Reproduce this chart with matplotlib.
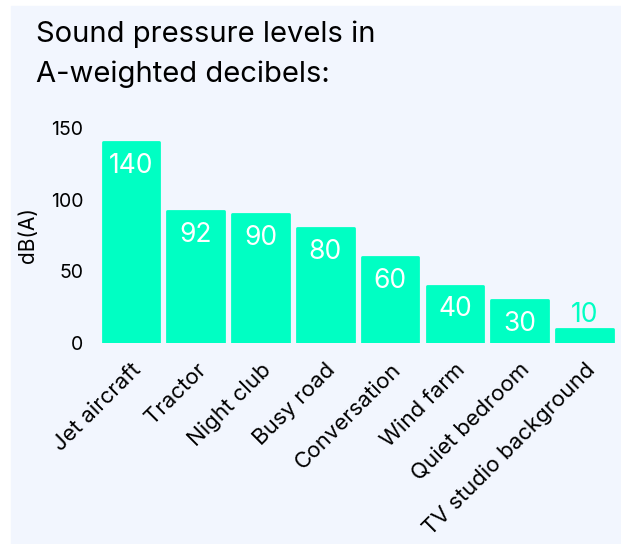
import matplotlib
matplotlib.use('Agg')
import matplotlib.pyplot as plt
from matplotlib.patches import Rectangle
import numpy as np

# data
categories = ['Jet aircraft', 'Tractor', 'Night club', 'Busy road', 'Conversation',
              'Wind farm', 'Quiet bedroom', 'TV studio background']
levels = [140, 92, 90, 80, 60, 40, 30, 10]
yticks = [0, 50, 100, 150]

bar_color = '#00FFC3'
panel_color = '#F2F6FE'

plt.rcParams['font.family'] = ['Inter', 'DejaVu Sans']

fig = plt.figure(figsize=(6.21, 5.44), dpi=100, facecolor='white')
# light panel behind everything
fig.add_artist(Rectangle((11 / 621, 0), 1 - 11 / 621, 1 - 6 / 544,
                         transform=fig.transFigure, color=panel_color, zorder=-10))

ax = fig.add_axes([0.1588, 0.3695, 0.8346, 0.3952])
ax.set_facecolor('none')

x = np.arange(len(categories))
# thin edge in the same colour with round joins -> slightly rounded corners
bars = ax.bar(x, levels, width=0.875, color=bar_color, edgecolor=bar_color,
              linewidth=2, joinstyle='round')

# value labels, inside the bar unless it is too short
for xi, v in zip(x, levels):
    if v >= 20:
        ax.annotate(str(v), (xi, v), xytext=(0, -17), textcoords='offset points',
                    ha='center', va='center', color='white', fontsize=19)
    else:
        ax.annotate(str(v), (xi, v), xytext=(0, 10), textcoords='offset points',
                    ha='center', va='center', color=bar_color, fontsize=19)

ax.set_xlim(-0.5, len(categories) - 0.5)
ax.set_ylim(0, 150)
ax.set_yticks(yticks)
ax.set_yticklabels([str(t) for t in yticks], fontsize=14)
ax.set_xticks(x)
ax.set_xticklabels(categories, rotation=45, ha='right', rotation_mode='anchor', fontsize=16)
ax.tick_params(axis='both', length=0)
ax.tick_params(axis='y', pad=11)
ax.tick_params(axis='x', pad=12)
for s in ax.spines.values():
    s.set_visible(False)

ax.set_ylabel('dB(A)', fontsize=15, labelpad=9)

fig.text(36 / 621, 1 - 20 / 544, 'Sound pressure levels in\nA-weighted decibels:',
         ha='left', va='top', fontsize=21, linespacing=1.6)

fig.savefig('out.png', dpi=100, facecolor='white')
